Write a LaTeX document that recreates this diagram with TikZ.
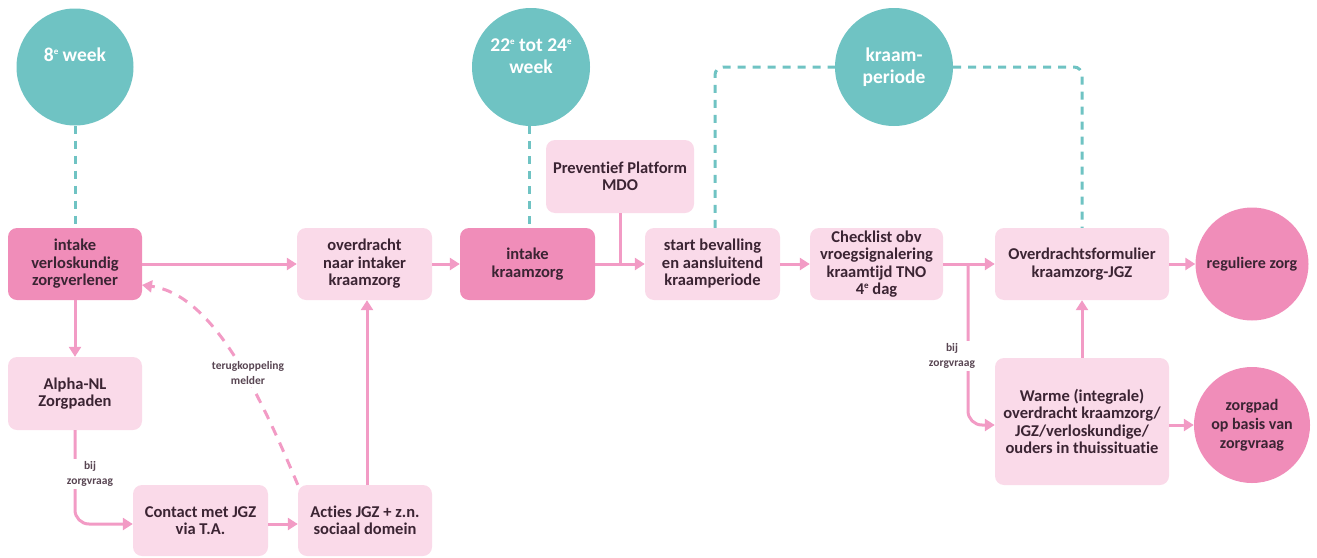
\documentclass[tikz,border=0pt]{standalone}
\usepackage{fontspec}
\setmainfont{Carlito}[Ligatures={NoCommon}]
\usetikzlibrary{arrows.meta,calc}
\definecolor{tealc}{HTML}{6FC3C3}
\definecolor{pinkdark}{HTML}{F08DB9}
\definecolor{pinklight}{HTML}{FADAE9}
\definecolor{pinkline}{HTML}{F29BC5}
\definecolor{txt}{HTML}{3B2433}
\newcommand{\supe}{\raisebox{0.75ex}{\fontsize{9}{9}\selectfont e}}
\tikzset{
  box/.style={rectangle, rounded corners=9pt, fill=pinklight, text=txt, font=\fontsize{16.5}{17.5}\selectfont\bfseries, align=center, inner sep=2pt},
  darkbox/.style={box, fill=pinkdark},
  tealcircle/.style={circle, fill=tealc, inner sep=0pt},
  pinkcircle/.style={circle, fill=pinkdark, inner sep=0pt, text=txt, font=\fontsize{16}{19}\selectfont\bfseries, align=center},
  circtext/.style={text=white, font=\fontsize{19.5}{22}\selectfont\bfseries, align=center},
  arr/.style={draw=pinkline, line width=3pt, -{Triangle[width=12pt,length=10pt]}},
  plain/.style={draw=pinkline, line width=3pt},
  tdash/.style={draw=tealc, line width=3pt, dash pattern=on 8pt off 7pt},
  pdash/.style={draw=pinkline, line width=3pt, dash pattern=on 10pt off 8pt, -{Triangle[width=12pt,length=10pt]}},
  lab/.style={fill=white, text=txt!85, font=\fontsize{11.5}{15}\selectfont\bfseries, align=center, inner sep=2pt}
}
\begin{document}
\begin{tikzpicture}[x=1pt,y=-1pt]
\useasboundingbox (0,0) rectangle (1317,557);
% circles
\node[tealcircle, minimum size=117pt] (c8) at (75,67) {};
\node[circtext] (t8) at (75,55) {8\supe{} week};
\node[tealcircle, minimum size=118pt] (c22) at (531,67) {};
\node[circtext] (t22) at (531,56) {22\supe{} tot 24\supe\\week};
\node[tealcircle, minimum size=118pt] (ck) at (894,67) {};
\node[circtext] (tk) at (894,67) {kraam-\\periode};
% boxes
\node[darkbox, minimum width=134pt, minimum height=72pt] (iv) at (75,264) {intake\\verloskundig\\zorgverlener};
\node[box, minimum width=135pt, minimum height=72pt] (ov) at (364.5,264) {overdracht\\naar intaker\\kraamzorg};
\node[box, minimum width=134pt, minimum height=73pt] (ap) at (75,393.5) {Alpha-NL\\Zorgpaden};
\node[box, minimum width=135pt, minimum height=71pt] (cj) at (200.5,520.5) {Contact met JGZ\\via T.A.};
\node[box, minimum width=134pt, minimum height=71pt] (aj) at (365,520.5) {Acties JGZ + z.n.\\sociaal domein};
\node[darkbox, minimum width=135pt, minimum height=72pt] (ik) at (527.5,264) {intake\\kraamzorg};
\node[box, minimum width=148pt, minimum height=73pt] (pp) at (620,176.5) {Preventief Platform\\MDO};
\node[box, minimum width=135pt, minimum height=72pt] (sb) at (712.5,264) {start bevalling\\en aansluitend\\kraamperiode};
\node[box, minimum width=133pt, minimum height=72pt] (cl) at (876.5,264) {Checklist obv\\vroegsignalering\\kraamtijd TNO\\4\supe{} dag};
\node[box, minimum width=174pt, minimum height=72pt] (of) at (1082,264) {Overdrachtsformulier\\kraamzorg-JGZ};
\node[box, minimum width=174pt, minimum height=127pt] (wa) at (1082,421.5) {Warme (integrale)\\overdracht kraamzorg/\\JGZ/verloskundige/\\ouders in thuissituatie};
\node[pinkcircle, minimum size=113pt] (rz) at (1252,264) {reguliere zorg};
\node[pinkcircle, minimum size=116pt] (zp) at (1252,425) {zorgpad\\op basis van\\zorgvraag};
% teal dashed
\draw[tdash] (c8.south) -- (iv.north);
\draw[tdash] (c22.south -| 529,0) -- (iv.north -| 529,0);
\draw[tdash, rounded corners=8pt] (sb.north -| 715,0) |- (ck.west);
\draw[tdash, rounded corners=8pt] (ck.east) -| (of.north);
% arrows
\draw[arr] (iv) -- (ov);
\draw[arr] (iv) -- (ap);
\coordinate (j1) at (75,524);
\draw[arr, rounded corners=14pt] (ap.south) -- (j1) -- (cj.west |- j1);
\node[lab] (l1) at (90,474) {bij\\zorgvraag};
\draw[arr] (cj.east |- j1) -- (aj.west |- j1);
\draw[arr] (aj.north -| 367,0) -- (ov.south -| 367,0);
\draw[arr] (ov) -- (ik);
\draw[arr] (ik) -- (sb);
\coordinate (jp) at (620,264);
\draw[plain] (pp.south) -- (jp);
\draw[arr] (sb) -- (cl);
\draw[arr] (cl) -- (of);
\coordinate (jc) at (968,264);
\draw[arr, rounded corners=14pt] (jc) -- (968,425) -- (wa.west |- 0,425);
\node[lab] (l2) at (952,356) {bij\\zorgvraag};
\draw[arr] (wa) -- (of);
\draw[arr] (of) -- (rz);
\draw[arr] (wa.east |- zp.west) -- (zp.west);
% feedback
\coordinate (fb) at (142,285);
\draw[pdash] (aj.north west) .. controls (262,400) and (215,295) .. (fb);
\node[lab] (l3) at (248,373) {terugkoppeling\\melder};
\end{tikzpicture}
\end{document}
